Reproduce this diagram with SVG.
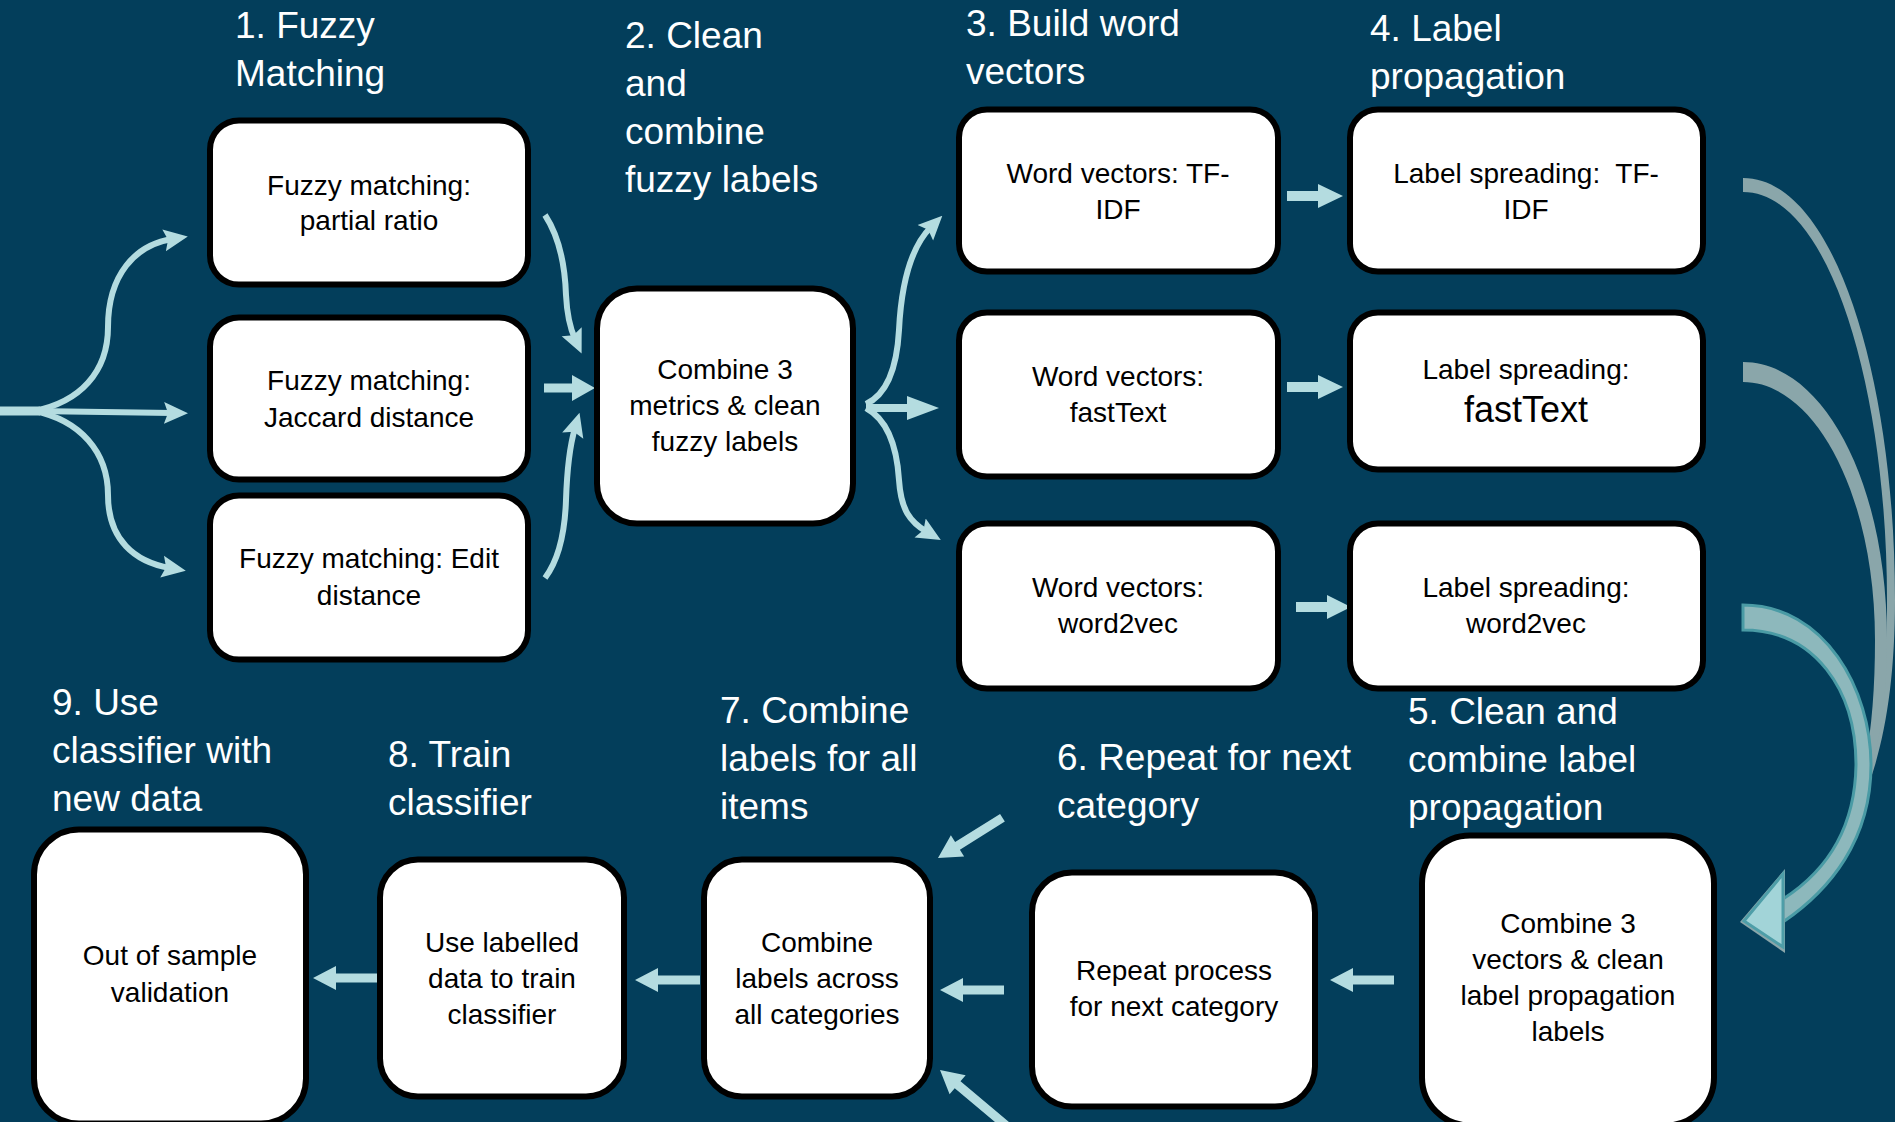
<svg xmlns="http://www.w3.org/2000/svg" width="1895" height="1122" viewBox="0 0 1895 1122">
<style>
.bg{fill:#033E5B}
.box{fill:#FFFFFF;stroke:#000000;stroke-width:6}
.nt{font-family:"Liberation Sans",Arial,sans-serif;font-size:28px;fill:#000000;text-anchor:middle}
.big{font-size:36px}
.tt{font-family:"Liberation Sans",Arial,sans-serif;font-size:37px;fill:#FFFFFF}
.ln{fill:none;stroke:#B4DCE0;stroke-width:6}
.trunk{fill:none;stroke:#B4DCE0;stroke-width:9}
.blk{fill:#B4DCE0}
.rib{fill:#8AA6AA}
.rib3{fill:#8DB8BC;stroke:#4A9BA5;stroke-width:3}
</style>
<defs>
<marker id="ah" viewBox="0 0 24 24" markerWidth="24" markerHeight="24" markerUnits="userSpaceOnUse" refX="8" refY="12" orient="auto">
<path d="M0,1 L24,12 L0,23 L4,12 Z" fill="#B4DCE0"/>
</marker>
</defs>
<rect class="bg" x="0" y="0" width="1895" height="1122"/>

<g id="titles">
<text class="tt" x="235" y="38">1. Fuzzy</text>
<text class="tt" x="235" y="86">Matching</text>
<text class="tt" x="625" y="48">2. Clean</text>
<text class="tt" x="625" y="96">and</text>
<text class="tt" x="625" y="144">combine</text>
<text class="tt" x="625" y="192">fuzzy labels</text>
<text class="tt" x="966" y="36">3. Build word</text>
<text class="tt" x="966" y="84">vectors</text>
<text class="tt" x="1370" y="41">4. Label</text>
<text class="tt" x="1370" y="89">propagation</text>
<text class="tt" x="52" y="715">9. Use</text>
<text class="tt" x="52" y="763">classifier with</text>
<text class="tt" x="52" y="811">new data</text>
<text class="tt" x="388" y="767">8. Train</text>
<text class="tt" x="388" y="815">classifier</text>
<text class="tt" x="720" y="723">7. Combine</text>
<text class="tt" x="720" y="771">labels for all</text>
<text class="tt" x="720" y="819">items</text>
<text class="tt" x="1057" y="770">6. Repeat for next</text>
<text class="tt" x="1057" y="818">category</text>
<text class="tt" x="1408" y="724">5. Clean and</text>
<text class="tt" x="1408" y="772">combine label</text>
<text class="tt" x="1408" y="820">propagation</text>
</g>

<g id="connectors">
<path class="trunk" d="M0,411 L40,411"/>
<path class="ln" marker-end="url(#ah)" d="M34,411 C80,402 108,372 108,327 C108,275 135,245 172,239"/>
<path class="ln" marker-end="url(#ah)" d="M34,411 L172,413"/>
<path class="ln" marker-end="url(#ah)" d="M34,411 C80,420 108,452 108,495 C108,540 135,562 170,568"/>
<path class="ln" marker-end="url(#ah)" d="M545,215 C560,238 565,265 566,295 C567,315 570,328 575,339"/>
<path class="ln" marker-end="url(#ah)" d="M545,578 C560,558 565,530 566,500 C567,470 570,445 575,428"/>
<polygon class="blk" points="544,383.5 572,383.5 572,375 595,388 572,401 572,392.5 544,392.5"/>
<path class="ln" marker-end="url(#ah)" d="M866,404 C888,394 897,366 899,330 C901,290 908,250 931,227"/>
<path class="ln" marker-end="url(#ah)" d="M866,408 C888,420 897,448 899,480 C901,510 910,522 927,532"/>
<polygon class="blk" points="866,404 907,404 907,396 939,408 907,420 907,412 866,412"/>
<polygon class="blk" points="1287,191 1318,191 1318,184 1343,196 1318,208 1318,201 1287,201"/>
<polygon class="blk" points="1287,382 1318,382 1318,375 1343,387 1318,399 1318,392 1287,392"/>
<polygon class="blk" points="1296,602 1327,602 1327,595 1351,607 1327,619 1327,612 1296,612"/>
<polygon class="blk" points="1394,975.5 1353,975.5 1353,968 1330,980 1353,992 1353,984.5 1394,984.5"/>
<polygon class="blk" points="1004,985.5 963,985.5 963,978 940,990 963,1002 963,994.5 1004,994.5"/>
<polygon class="blk" points="700,975.5 658,975.5 658,968 635,980 658,992 658,984.5 700,984.5"/>
<polygon class="blk" points="377,973.5 336,973.5 336,966 313,978 336,990 336,982.5 377,982.5"/>
<path class="blk" transform="translate(938,858) rotate(148)" d="M-76,-4.5 L-23,-4.5 L-23,-12.5 L0,0 L-23,12.5 L-23,4.5 L-76,4.5 Z"/>
<path class="blk" transform="translate(940,1070) rotate(220)" d="M-90,-4.5 L-23,-4.5 L-23,-12.5 L0,0 L-23,12.5 L-23,4.5 L-90,4.5 Z"/>
<path class="rib" d="M1743,178 C1835,178 1895,380 1895,600 C1895,760 1855,850 1785,898 L1785,906 C1850,858 1887,760 1887,600 C1887,390 1830,192 1743,192 Z"/>
<path class="rib" d="M1743,362 C1822,362 1887,480 1887,640 C1887,772 1848,856 1785,898 L1785,910 C1850,862 1875,772 1875,640 C1875,495 1815,382 1743,382 Z"/>
<path class="rib3" d="M1743,605 C1825,605 1871,690 1871,765 C1871,840 1830,890 1783,922 L1783,899 C1825,872 1855,830 1856,765 C1856,690 1815,630 1743,630 Z"/>
<polygon points="1740,922 1785,869 1785,953" fill="#8AA6AA"/>
<polygon points="1744,921 1783,874 1783,947" fill="#A2D4D8" stroke="#4E9EA8" stroke-width="3" stroke-linejoin="miter"/>
</g>

<g id="n1"><rect class="box" x="210" y="120.5" width="318" height="164" rx="29"/>
<text class="nt" x="369" y="195">Fuzzy matching:</text><text class="nt" x="369" y="230">partial ratio</text></g>
<g id="n2"><rect class="box" x="210" y="317.5" width="318" height="162" rx="29"/>
<text class="nt" x="369" y="390">Fuzzy matching:</text><text class="nt" x="369" y="427">Jaccard distance</text></g>
<g id="n3"><rect class="box" x="210" y="495.5" width="318" height="164" rx="29"/>
<text class="nt" x="369" y="568">Fuzzy matching: Edit</text><text class="nt" x="369" y="605">distance</text></g>
<g id="n4"><rect class="box" x="597" y="288.5" width="256" height="235" rx="40"/>
<text class="nt" x="725" y="379">Combine 3</text><text class="nt" x="725" y="415">metrics &amp; clean</text><text class="nt" x="725" y="451">fuzzy labels</text></g>
<g id="n5"><rect class="box" x="959" y="109.5" width="319" height="162" rx="28"/>
<text class="nt" x="1118" y="183">Word vectors: TF-</text><text class="nt" x="1118" y="219">IDF</text></g>
<g id="n6"><rect class="box" x="959" y="312.5" width="319" height="164" rx="28"/>
<text class="nt" x="1118" y="386">Word vectors:</text><text class="nt" x="1118" y="422">fastText</text></g>
<g id="n7"><rect class="box" x="959" y="523.5" width="319" height="165" rx="28"/>
<text class="nt" x="1118" y="597">Word vectors:</text><text class="nt" x="1118" y="633">word2vec</text></g>
<g id="n8"><rect class="box" x="1350" y="109.5" width="353" height="162" rx="28"/>
<text class="nt" x="1526" y="183">Label spreading:&#160; TF-</text><text class="nt" x="1526" y="219">IDF</text></g>
<g id="n9"><rect class="box" x="1350" y="312.5" width="353" height="157" rx="28"/>
<text class="nt" x="1526" y="379">Label spreading:</text><text class="nt big" x="1526" y="422">fastText</text></g>
<g id="n10"><rect class="box" x="1350" y="523.5" width="353" height="165" rx="28"/>
<text class="nt" x="1526" y="597">Label spreading:</text><text class="nt" x="1526" y="633">word2vec</text></g>
<g id="n11"><rect class="box" x="1422" y="835.5" width="292" height="290" rx="48"/>
<text class="nt" x="1568" y="933">Combine 3</text><text class="nt" x="1568" y="969">vectors &amp; clean</text><text class="nt" x="1568" y="1005">label propagation</text><text class="nt" x="1568" y="1041">labels</text></g>
<g id="n12"><rect class="box" x="1032" y="872.5" width="283" height="234" rx="40"/>
<text class="nt" x="1174" y="980">Repeat process</text><text class="nt" x="1174" y="1016">for next category</text></g>
<g id="n13"><rect class="box" x="704" y="859.5" width="226" height="237" rx="38"/>
<text class="nt" x="817" y="952">Combine</text><text class="nt" x="817" y="988">labels across</text><text class="nt" x="817" y="1024">all categories</text></g>
<g id="n14"><rect class="box" x="380" y="859.5" width="244" height="237" rx="38"/>
<text class="nt" x="502" y="952">Use labelled</text><text class="nt" x="502" y="988">data to train</text><text class="nt" x="502" y="1024">classifier</text></g>
<g id="n15"><rect class="box" x="34" y="829.5" width="272" height="294" rx="45"/>
<text class="nt" x="170" y="965">Out of sample</text><text class="nt" x="170" y="1002">validation</text></g>
</svg>
